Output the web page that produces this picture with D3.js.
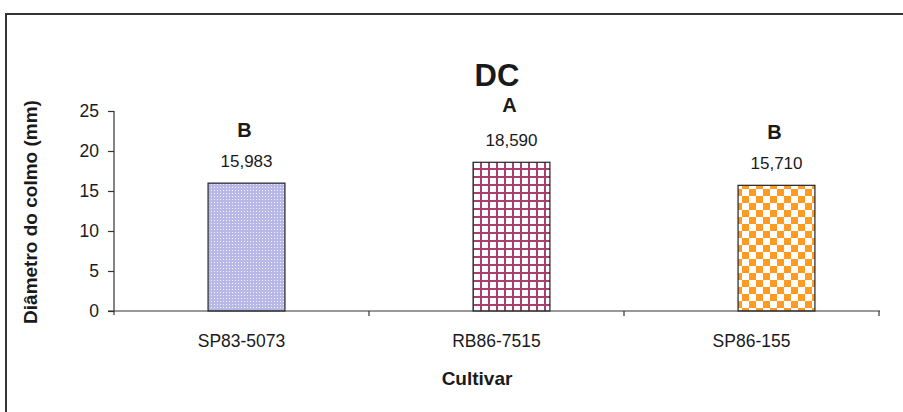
<!DOCTYPE html>
<html>
<head>
<meta charset="utf-8">
<script src="https://cdn.jsdelivr.net/npm/d3@7"></script>
<style>
  body { margin: 0; background: #fff; }
  text { font-family: "Liberation Sans", Arial, sans-serif; fill: #1a1a1a; }
</style>
</head>
<body>
<div id="chart"></div>
<script>
// data
var cultivars = ["SP83-5073", "RB86-7515", "SP86-155"];
var diametro = [15.983, 18.590, 15.710];
var letras = ["B", "A", "B"];
var yTicks = [0, 5, 10, 15, 20, 25];

var W = 903, H = 412;
var x0 = 114, y0 = 311, yTop = 111;

var svg = d3.select("#chart").append("svg")
    .attr("width", W).attr("height", H);

// patterns for the three bars
var defs = svg.append("defs");
var p1 = defs.append("pattern").attr("id", "pat1")
    .attr("patternUnits", "userSpaceOnUse").attr("width", 3).attr("height", 3);
p1.append("rect").attr("width", 3).attr("height", 3).attr("fill", "#b8b8e8");
p1.append("rect").attr("x", 1).attr("y", 1).attr("width", 1).attr("height", 1).attr("fill", "#f4f4ff");

var p2 = defs.append("pattern").attr("id", "pat2")
    .attr("patternUnits", "userSpaceOnUse").attr("width", 8).attr("height", 8);
p2.append("rect").attr("width", 8).attr("height", 8).attr("fill", "#ffffff");
p2.append("rect").attr("width", 2).attr("height", 8).attr("fill", "#a8406e");
p2.append("rect").attr("width", 8).attr("height", 2).attr("fill", "#a8406e");

var p3 = defs.append("pattern").attr("id", "pat3")
    .attr("patternUnits", "userSpaceOnUse").attr("width", 14).attr("height", 14);
p3.append("rect").attr("width", 14).attr("height", 14).attr("fill", "#ffffff");
p3.append("rect").attr("width", 7).attr("height", 7).attr("fill", "#ff9a22");
p3.append("rect").attr("x", 7).attr("y", 7).attr("width", 7).attr("height", 7).attr("fill", "#ff9a22");

var fills = ["url(#pat1)", "url(#pat2)", "url(#pat3)"];

// outer frame (runs off the right and bottom edges)
svg.append("path")
    .attr("d", "M6,420 V14 H920")
    .attr("fill", "none").attr("stroke", "#333").attr("stroke-width", 2);

// bars sit on a slightly wider band grid than the category labels
var xBars = d3.scaleBand()
    .domain(cultivars)
    .range([x0, x0 + 795])
    .paddingInner(0.71).paddingOuter(0.355);
var xCat = d3.scaleBand()
    .domain(cultivars)
    .range([x0, x0 + 765]);
var yScale = d3.scaleLinear().domain([0, 25]).range([y0, yTop]);

// bars
svg.selectAll(".bar")
    .data(diametro)
    .enter().append("rect")
    .attr("class", "bar")
    .attr("x", function(d, i) { return xBars(cultivars[i]); })
    .attr("y", function(d) { return yScale(d); })
    .attr("width", xBars.bandwidth())
    .attr("height", function(d) { return y0 - yScale(d); })
    .attr("fill", function(d, i) { return fills[i]; })
    .attr("stroke", "#222").attr("stroke-width", 1.2);

// y axis
var yAxis = d3.axisLeft(yScale).tickValues(yTicks).tickSize(6).tickPadding(9);
var gy = svg.append("g").attr("transform", "translate(" + x0 + ",0)").call(yAxis);
gy.select(".domain").attr("stroke", "#333").attr("stroke-width", 1.2)
    .attr("d", "M0," + yTop + "V" + (y0 + 4));
gy.selectAll(".tick line").attr("stroke", "#333").attr("stroke-width", 1.2);
gy.selectAll(".tick text").attr("font-size", 17.5).attr("fill", "#1a1a1a");

// x axis with ticks between categories
var gx = svg.append("g").attr("transform", "translate(0," + y0 + ")");
gx.append("line").attr("x1", x0 - 6).attr("x2", x0 + 766)
    .attr("stroke", "#333").attr("stroke-width", 1.2);
gx.selectAll(".sep").data(cultivars).enter().append("line")
    .attr("x1", function(d) { return xCat(d) + xCat.bandwidth(); })
    .attr("x2", function(d) { return xCat(d) + xCat.bandwidth(); })
    .attr("y1", 0).attr("y2", 5)
    .attr("stroke", "#333").attr("stroke-width", 1.2);
gx.selectAll(".cat").data(cultivars).enter().append("text")
    .attr("x", function(d) { return xCat(d) + xCat.bandwidth() / 2; })
    .attr("y", 36)
    .attr("text-anchor", "middle").attr("font-size", 17.5)
    .text(function(d) { return d; });

// value labels and letters
svg.selectAll(".val").data(diametro).enter().append("text")
    .attr("x", function(d, i) { return xBars(cultivars[i]) + xBars.bandwidth() / 2; })
    .attr("y", function(d) { return yScale(d) - 16; })
    .attr("text-anchor", "middle").attr("font-size", 17)
    .text(function(d) { return d3.format(".3f")(d).replace(".", ","); });

svg.selectAll(".let").data(letras).enter().append("text")
    .attr("x", function(d, i) { return xBars(cultivars[i]) + xBars.bandwidth() / 2 - 2; })
    .attr("y", function(d, i) { return yScale(diametro[i]) - (i === 1 ? 50 : 46); })
    .attr("text-anchor", "middle").attr("font-size", 20).attr("font-weight", "bold")
    .text(function(d) { return d; });

// titles
svg.append("text").attr("x", 497).attr("y", 86)
    .attr("text-anchor", "middle").attr("font-size", 31).attr("font-weight", "bold")
    .text("DC");
svg.append("text").attr("x", 477).attr("y", 385)
    .attr("text-anchor", "middle").attr("font-size", 19).attr("font-weight", "bold")
    .text("Cultivar");
svg.append("text")
    .attr("transform", "translate(37,212) rotate(-90)")
    .attr("text-anchor", "middle").attr("font-size", 19).attr("font-weight", "bold")
    .text("Diâmetro do colmo (mm)");
</script>
</body>
</html>
